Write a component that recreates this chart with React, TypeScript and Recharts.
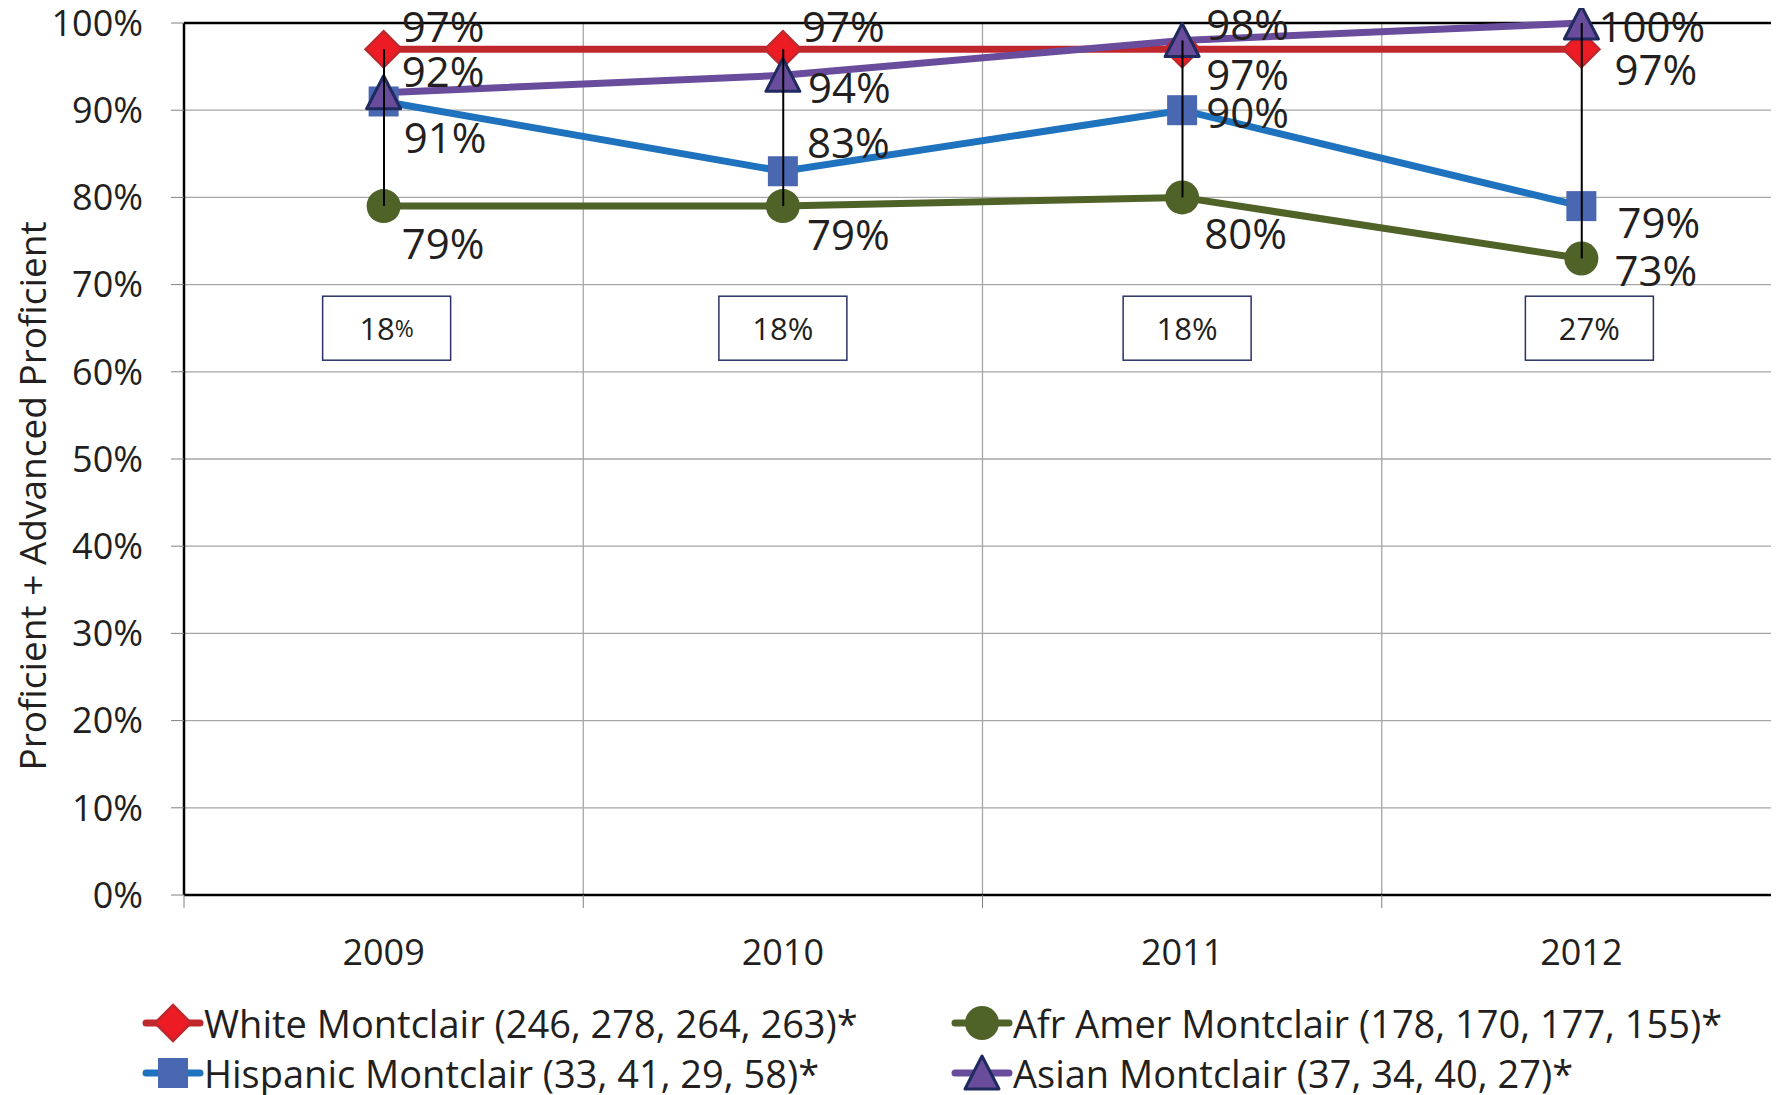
import React from 'react'
import {
  ComposedChart,
  Line,
  Bar,
  XAxis,
  YAxis,
  CartesianGrid,
  ReferenceLine,
  ReferenceDot,
  LabelList
} from 'recharts'

const years = ['2009', '2010', '2011', '2012']
const white = [97, 97, 97, 97]
const hispanic = [91, 83, 90, 79]
const afrAmer = [79, 79, 80, 73]
const asian = [92, 94, 98, 100]
const gapLabels = ['18%', '18%', '18%', '27%']
const yTicks = [0, 10, 20, 30, 40, 50, 60, 70, 80, 90, 100]

const legendNames = {
  white: 'White Montclair (246, 278, 264, 263)*',
  afrAmer: 'Afr Amer Montclair (178, 170, 177, 155)*',
  hispanic: 'Hispanic Montclair (33, 41, 29, 58)*',
  asian: 'Asian Montclair (37, 34, 40, 27)*'
}

const data = years.map((year, i) => {
  const vals = [white[i], hispanic[i], afrAmer[i], asian[i]]
  return {
    year,
    white: white[i],
    hispanic: hispanic[i],
    afrAmer: afrAmer[i],
    asian: asian[i],
    hilo: [Math.min(...vals), Math.max(...vals)]
  }
})

const FONT = "'Open Sans', sans-serif"
const TEXT = '#231f20'

const CHART_W = 1790
const CHART_H = 1087
const MARGIN = { top: 15, right: 17, bottom: 120, left: 0 }
const Y_AXIS_W = 176
const BAND = (CHART_W - MARGIN.left - MARGIN.right - Y_AXIS_W) / years.length

// label placement (px) for each point, relative to the marker
const labelOffsets: Record<string, Array<[number, number]>> = {
  white: [[18, -24], [19, -24], [24, 24], [33, 19]],
  asian: [[18, -22], [25, 11], [24, -17], [17, 2]],
  hispanic: [[20, 35], [24, -30], [24, 1], [36, 15]],
  afrAmer: [[18, 36], [24, 27], [22, 35], [33, 11]]
}
// gap boxes sit a little right of the category centre in the original
const gapBoxShift = [3, 0, 5, 8]

const colors = {
  white: { line: '#c0272d', fill: '#ed1c24', stroke: '#c0272d' },
  hispanic: { line: '#1f72bd', fill: '#4a67b1', stroke: '#4a67b1' },
  afrAmer: { line: '#4f6228', fill: '#4f6228', stroke: '#4f6228' },
  asian: { line: '#6a4c9c', fill: '#6a4c9c', stroke: '#1f2a5e' }
}

const Marker = ({ kind, cx, cy }: { kind: string; cx: number; cy: number }) => {
  const c = (colors as any)[kind]
  if (kind === 'white') {
    const s = 18
    return (
      <polygon
        points={`${cx},${cy - s} ${cx + s},${cy} ${cx},${cy + s} ${cx - s},${cy}`}
        fill={c.fill}
        stroke={c.stroke}
        strokeWidth={2.5}
      />
    )
  }
  if (kind === 'hispanic') {
    return <rect x={cx - 15} y={cy - 15} width={30} height={30} fill={c.fill} />
  }
  if (kind === 'afrAmer') {
    return <circle cx={cx} cy={cy} r={17} fill={c.fill} />
  }
  return (
    <polygon
      points={`${cx},${cy - 17} ${cx + 17},${cy + 16} ${cx - 17},${cy + 16}`}
      fill={c.fill}
      stroke={c.stroke}
      strokeWidth={3}
      strokeLinejoin="round"
    />
  )
}

const makeDot = (kind: string) => (props: any) => {
  const { cx, cy, index } = props
  if (cx == null || cy == null) return <g key={`${kind}-${index}`} />
  return (
    <g key={`${kind}-${index}`}>
      <Marker kind={kind} cx={cx} cy={cy} />
    </g>
  )
}

const makeLabel = (kind: string) => (props: any) => {
  const { x, y, value, index } = props
  const [dx, dy] = labelOffsets[kind][index]
  return (
    <text
      x={x + dx}
      y={y + dy}
      textAnchor="start"
      dominantBaseline="central"
      fontFamily={FONT}
      fontSize={42}
      fill={TEXT}
    >
      {`${value}%`}
    </text>
  )
}

const GapBox = (props: any) => {
  const { cy, label, small, shift } = props
  if (props.cx == null || cy == null) return <g />
  const cx = props.cx + shift
  const num = label.replace('%', '')
  return (
    <g>
      <rect x={cx - 64} y={cy - 32} width={128} height={64} fill="#fff" stroke="#2a3266" strokeWidth={1.5} />
      <text
        x={cx}
        y={cy}
        textAnchor="middle"
        dominantBaseline="central"
        fontFamily={FONT}
        fontSize={31}
        fill={TEXT}
      >
        {num}
        <tspan fontSize={small ? 23 : 31}>%</tspan>
      </text>
    </g>
  )
}

const XTick = (props: any) => {
  const { x, y, payload, index } = props
  return (
    <g>
      <line x1={x - BAND / 2} y1={y} x2={x - BAND / 2} y2={y + 13} stroke="#808080" strokeWidth={1} />
      {index === years.length - 1 && (
        <line x1={x + BAND / 2} y1={y} x2={x + BAND / 2} y2={y + 13} stroke="#808080" strokeWidth={1} />
      )}
      <text
        x={x}
        y={y + 56}
        textAnchor="middle"
        dominantBaseline="central"
        fontFamily={FONT}
        fontSize={36}
        fill={TEXT}
      >
        {payload.value}
      </text>
    </g>
  )
}

const YTitle = (props: any) => {
  const vb = props.viewBox || { x: 0, y: MARGIN.top, width: Y_AXIS_W, height: 872 }
  const x = vb.x + 23
  const y = vb.y + vb.height / 2 + 37
  return (
    <text
      x={x}
      y={y}
      transform={`rotate(-90, ${x}, ${y})`}
      textAnchor="middle"
      dominantBaseline="central"
      fontFamily={FONT}
      fontSize={37}
      fill={TEXT}
    >
      Proficient + Advanced Proficient
    </text>
  )
}

const LegendIcon = ({ kind }: { kind: string }) => {
  const c = (colors as any)[kind]
  return (
    <svg width={62} height={44} style={{ display: 'block', flex: 'none' }}>
      <line x1={4} y1={22} x2={58} y2={22} stroke={c.line} strokeWidth={7} strokeLinecap="round" />
      <Marker kind={kind} cx={31} cy={22} />
    </svg>
  )
}

const legendItems = [
  { kind: 'white', left: 134, top: 1015 },
  { kind: 'afrAmer', left: 943, top: 1015 },
  { kind: 'hispanic', left: 134, top: 1065 },
  { kind: 'asian', left: 943, top: 1065 }
]

const App: React.FC = () => {
  return (
    <div style={{ position: 'relative', width: 1771, height: CHART_H, overflow: 'hidden', fontFamily: FONT }}>
      <ComposedChart width={CHART_W} height={CHART_H} data={data} margin={MARGIN}>
        <CartesianGrid
          stroke="#a6a6a6"
          strokeWidth={1.3}
          verticalCoordinatesGenerator={(args: any) => {
            const off = args.offset
            const w = off.width ?? args.width - off.left - off.right
            return years.map((_, i) => off.left + ((i + 1) * w) / years.length)
          }}
          verticalFill={[]}
          syncWithTicks={false}
        />
        <XAxis
          dataKey="year"
          tickLine={false}
          tickSize={0}
          tickMargin={0}
          height={80}
          axisLine={{ stroke: '#000', strokeWidth: 2.5 }}
          tick={<XTick />}
          interval={0}
        />
        <YAxis
          type="number"
          domain={[0, 100]}
          ticks={yTicks}
          interval={0}
          width={Y_AXIS_W}
          tickFormatter={(v: number) => `${v}%`}
          tickSize={13}
          tickMargin={28}
          tickLine={{ stroke: '#808080' }}
          axisLine={{ stroke: '#000', strokeWidth: 2.5 }}
          tick={{ fontFamily: FONT, fontSize: 36, fill: TEXT }}
          label={<YTitle />}
        />
        <ReferenceLine y={100} stroke="#000" strokeWidth={2.5} />
        {years.map((year, i) => (
          <ReferenceDot
            key={year}
            x={year}
            y={65}
            r={0}
            shape={(p: any) => (
              <GapBox {...p} label={gapLabels[i]} small={i === 0} shift={gapBoxShift[i]} />
            )}
          />
        ))}
        <Line
          dataKey="white"
          stroke={colors.white.line}
          strokeWidth={7}
          dot={makeDot('white')}
          activeDot={false}
          isAnimationActive={false}
        >
          <LabelList dataKey="white" content={makeLabel('white')} />
        </Line>
        <Line
          dataKey="hispanic"
          stroke={colors.hispanic.line}
          strokeWidth={7}
          dot={makeDot('hispanic')}
          activeDot={false}
          isAnimationActive={false}
        >
          <LabelList dataKey="hispanic" content={makeLabel('hispanic')} />
        </Line>
        <Line
          dataKey="afrAmer"
          stroke={colors.afrAmer.line}
          strokeWidth={7}
          dot={makeDot('afrAmer')}
          activeDot={false}
          isAnimationActive={false}
        >
          <LabelList dataKey="afrAmer" content={makeLabel('afrAmer')} />
        </Line>
        <Line
          dataKey="asian"
          stroke={colors.asian.line}
          strokeWidth={7}
          dot={makeDot('asian')}
          activeDot={false}
          isAnimationActive={false}
        >
          <LabelList dataKey="asian" content={makeLabel('asian')} />
        </Line>
        <Bar dataKey="hilo" barSize={2} fill="#000" isAnimationActive={false} zIndex={1000} />
      </ComposedChart>
      {legendItems.map((item) => (
        <div
          key={item.kind}
          style={{
            position: 'absolute',
            left: item.left,
            top: item.top - 25,
            height: 50,
            display: 'flex',
            alignItems: 'center',
            whiteSpace: 'nowrap',
            fontSize: 38,
            color: TEXT,
            lineHeight: '50px'
          }}
        >
          <LegendIcon kind={item.kind} />
          <span>{(legendNames as any)[item.kind]}</span>
        </div>
      ))}
    </div>
  )
}

export default App
